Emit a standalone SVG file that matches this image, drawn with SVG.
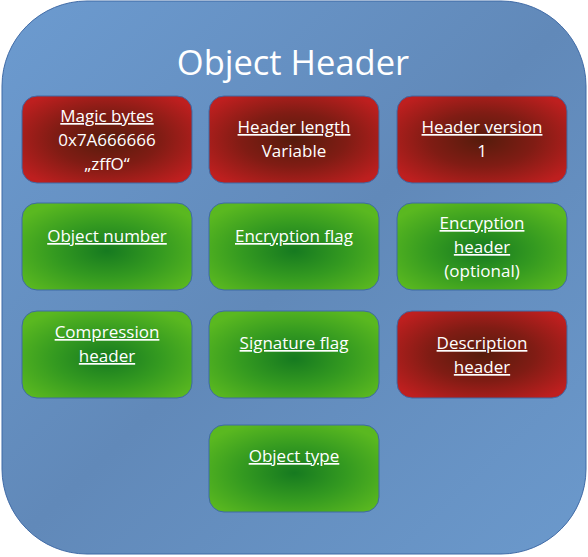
<svg xmlns="http://www.w3.org/2000/svg" width="588" height="557" viewBox="0 0 588 557">
<defs>
<linearGradient id="bg" x1="0" y1="0" x2="1" y2="1">
<stop offset="0" stop-color="#6c9bd0"/>
<stop offset="0.5" stop-color="#6189b9"/>
<stop offset="1" stop-color="#6b99cc"/>
</linearGradient>
<radialGradient id="red" cx="0.5" cy="0.5" r="0.62">
<stop offset="0" stop-color="#561c0c"/>
<stop offset="0.5" stop-color="#801c14"/>
<stop offset="1" stop-color="#be1f1f"/>
</radialGradient>
<radialGradient id="green" cx="0.5" cy="0.55" r="0.62">
<stop offset="0" stop-color="#167a20"/>
<stop offset="0.5" stop-color="#349a20"/>
<stop offset="1" stop-color="#5ab820"/>
</radialGradient>
</defs>
<style>
.box{stroke:#3f6aa6;stroke-width:1}
.r{fill:url(#red)}
.g{fill:url(#green)}
text{font-family:"Open Sans","Noto Sans","DejaVu Sans",sans-serif;fill:#ffffff;text-anchor:middle;font-size:17px}
.u{text-decoration:underline}
.title{font-size:34.5px}
</style>
<g id="container">
<rect x="2" y="1" width="584" height="553" rx="85" ry="85" fill="url(#bg)" stroke="#3f6aa6" stroke-width="1"/>
<text class="title" x="293" y="75">Object Header</text>
</g>
<g id="magic-bytes">
<rect class="box r" x="22" y="96" width="170" height="87" rx="15"/>
<text class="u" x="107" y="122">Magic bytes</text>
<text x="107" y="146">0x7A666666</text>
<text x="107" y="170">„zffO“</text>
</g>
<g id="header-length">
<rect class="box r" x="209" y="96" width="170" height="87" rx="15"/>
<text class="u" x="294" y="133">Header length</text>
<text x="294" y="157">Variable</text>
</g>
<g id="header-version">
<rect class="box r" x="397" y="96" width="170" height="87" rx="15"/>
<text class="u" x="482" y="133">Header version</text>
<text x="482" y="157">1</text>
</g>
<g id="object-number">
<rect class="box g" x="22" y="203" width="170" height="87" rx="15"/>
<text class="u" x="107" y="242">Object number</text>
</g>
<g id="encryption-flag">
<rect class="box g" x="209" y="203" width="170" height="87" rx="15"/>
<text class="u" x="294" y="242">Encryption flag</text>
</g>
<g id="encryption-header">
<rect class="box g" x="397" y="203" width="170" height="87" rx="15"/>
<text class="u" x="482" y="229">Encryption</text>
<text class="u" x="482" y="253">header</text>
<text x="482" y="277">(optional)</text>
</g>
<g id="compression-header">
<rect class="box g" x="22" y="311" width="170" height="87" rx="15"/>
<text class="u" x="107" y="338">Compression</text>
<text class="u" x="107" y="362">header</text>
</g>
<g id="signature-flag">
<rect class="box g" x="209" y="311" width="170" height="87" rx="15"/>
<text class="u" x="294" y="349">Signature flag</text>
</g>
<g id="description-header">
<rect class="box r" x="397" y="311" width="170" height="87" rx="15"/>
<text class="u" x="482" y="349">Description</text>
<text class="u" x="482" y="373">header</text>
</g>
<g id="object-type">
<rect class="box g" x="209" y="425" width="170" height="87" rx="15"/>
<text class="u" x="294" y="462">Object type</text>
</g>
<g id="connectors"></g>
</svg>
